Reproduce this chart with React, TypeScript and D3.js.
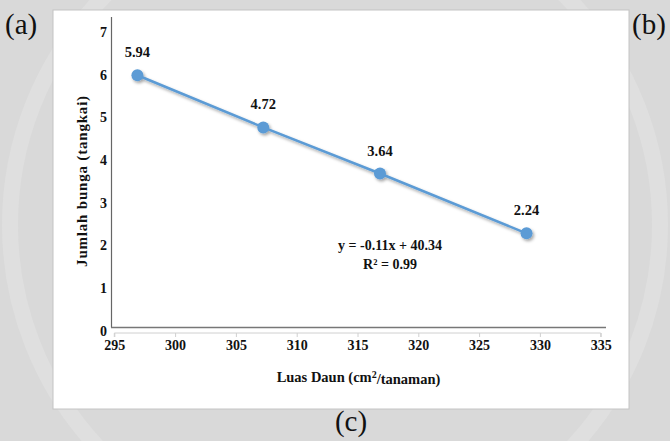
import React, { useEffect, useRef } from 'react';
import * as d3 from 'd3';

const luasDaun = [296.9, 307.25, 316.85, 328.9];
const jumlahBunga = [5.94, 4.72, 3.64, 2.24];
const xTicks = [295, 300, 305, 310, 315, 320, 325, 330, 335];
const yTicks = [0, 1, 2, 3, 4, 5, 6, 7];
const equation = ['y = -0.11x + 40.34', 'R² = 0.99'];

const W = 670;
const H = 441;
const BLUE = '#5b9bd5';
const FONT = "'Liberation Serif'";

export default function App() {
  const svgRef = useRef<SVGSVGElement>(null);

  useEffect(() => {
    const root = d3.select(svgRef.current);
    root.selectAll('*').remove();

    const x = d3.scaleLinear().domain([295, 335]).range([114.3, 600.7]);
    const y = d3.scaleLinear().domain([0, 7]).range([329, 30]);

    const defs = root.append('defs');
    const f = defs.append('filter').attr('id', 'shadow')
      .attr('x', '-50%').attr('y', '-50%').attr('width', '200%').attr('height', '200%');
    f.append('feDropShadow').attr('dx', 1.5).attr('dy', 2).attr('stdDeviation', 1.6)
      .attr('flood-color', '#000').attr('flood-opacity', 0.35);

    // background + faint watermark
    root.append('rect').attr('width', W).attr('height', H).attr('fill', '#d9d9d9');
    root.append('circle').attr('cx', 335).attr('cy', 225).attr('r', 325)
      .attr('fill', 'none').attr('stroke', '#dfdfdf').attr('stroke-width', 16);

    // outer labels
    const outer = [
      { t: '(a)', x: 5, y: 34, a: 'start' },
      { t: '(b)', x: 632, y: 34, a: 'start' },
      { t: '(c)', x: 351, y: 431, a: 'middle' },
    ];
    root.selectAll('text.outer').data(outer).enter().append('text')
      .attr('class', 'outer')
      .attr('x', d => d.x).attr('y', d => d.y)
      .attr('text-anchor', d => d.a)
      .style('font-family', FONT).style('font-size', '29px').attr('fill', '#111')
      .text(d => d.t);

    // white chart panel
    root.append('rect').attr('x', 53).attr('y', 10).attr('width', 576).attr('height', 399)
      .attr('fill', '#fff').attr('stroke', '#c4c4c4').attr('stroke-width', 1);

    // axes
    root.append('line').attr('x1', 111.5).attr('x2', 111.5).attr('y1', 17).attr('y2', 327.5)
      .attr('stroke', '#666').attr('stroke-width', 1.2);
    root.append('line').attr('x1', 111).attr('x2', 606).attr('y1', 327.5).attr('y2', 327.5)
      .attr('stroke', '#777').attr('stroke-width', 1.5);

    const xAxis = root.append('g').attr('transform', 'translate(0,333)')
      .call(d3.axisBottom(x).tickValues(xTicks).tickSize(4).tickFormat(d3.format('d')));
    xAxis.select('.domain').attr('stroke', '#d0d0d0').attr('d', `M${x(295)},4V0H${x(335)}V4`);
    xAxis.selectAll('.tick line').attr('stroke', '#d0d0d0');
    xAxis.selectAll('.tick text')
      .attr('y', 12).attr('dy', '0.35em')
      .style('font-family', FONT).style('font-size', '14px').style('font-weight', 'bold').attr('fill', '#111');

    const yAxis = root.append('g').attr('transform', 'translate(108,0)')
      .call(d3.axisLeft(y).tickValues(yTicks).tickSize(0).tickFormat(d3.format('d')));
    yAxis.select('.domain').remove();
    yAxis.selectAll('.tick text')
      .attr('x', -1).attr('dy', '0.45em')
      .style('font-family', FONT).style('font-size', '14px').style('font-weight', 'bold').attr('fill', '#111');

    // axis titles
    root.append('text')
      .attr('transform', 'translate(82,181) rotate(-90)')
      .attr('text-anchor', 'middle').attr('dy', '0.35em')
      .style('font-family', FONT).style('font-size', '15px').style('font-weight', 'bold')
      .style('letter-spacing', '0.8px').attr('fill', '#111')
      .text('Jumlah bunga (tangkai)');

    const xt = root.append('text')
      .attr('x', 358.5).attr('y', 377).attr('dy', '0.35em').attr('text-anchor', 'middle')
      .style('font-family', FONT).style('font-size', '14.5px').style('font-weight', 'bold').attr('fill', '#111');
    xt.append('tspan').text('Luas Daun (cm');
    xt.append('tspan').attr('dy', '-0.4em').style('font-size', '10px').text('2');
    xt.append('tspan').attr('dy', '0.4em').text('/tanaman)');

    // series
    const pts = luasDaun.map((v, i) => [v, jumlahBunga[i]] as [number, number]);
    const line = d3.line<[number, number]>().x(d => x(d[0])).y(d => y(d[1]));
    const g = root.append('g').attr('filter', 'url(#shadow)');
    g.append('path').datum(pts).attr('d', line)
      .attr('fill', 'none').attr('stroke', BLUE).attr('stroke-width', 2.5);
    g.selectAll('circle').data(pts).enter().append('circle')
      .attr('cx', d => x(d[0])).attr('cy', d => y(d[1])).attr('r', 6)
      .attr('fill', BLUE);

    root.selectAll('text.lbl').data(pts).enter().append('text')
      .attr('class', 'lbl')
      .attr('x', d => x(d[0])).attr('y', d => y(d[1]) - 23)
      .attr('dy', '0.35em').attr('text-anchor', 'middle')
      .style('font-family', FONT).style('font-size', '14.5px').style('font-weight', 'bold').attr('fill', '#111')
      .text(d => d[1].toFixed(2));

    // trendline equation
    root.selectAll('text.eq').data(equation).enter().append('text')
      .attr('class', 'eq')
      .attr('x', 390).attr('y', (d, i) => 245 + i * 19)
      .attr('dy', '0.35em').attr('text-anchor', 'middle')
      .style('font-family', FONT).style('font-size', '14px').style('font-weight', 'bold').attr('fill', '#111')
      .text(d => d);
  }, []);

  return (
    <svg ref={svgRef} width={W} height={H}
      style={{ position: 'absolute', left: 0, top: 0, display: 'block' }} />
  );
}
